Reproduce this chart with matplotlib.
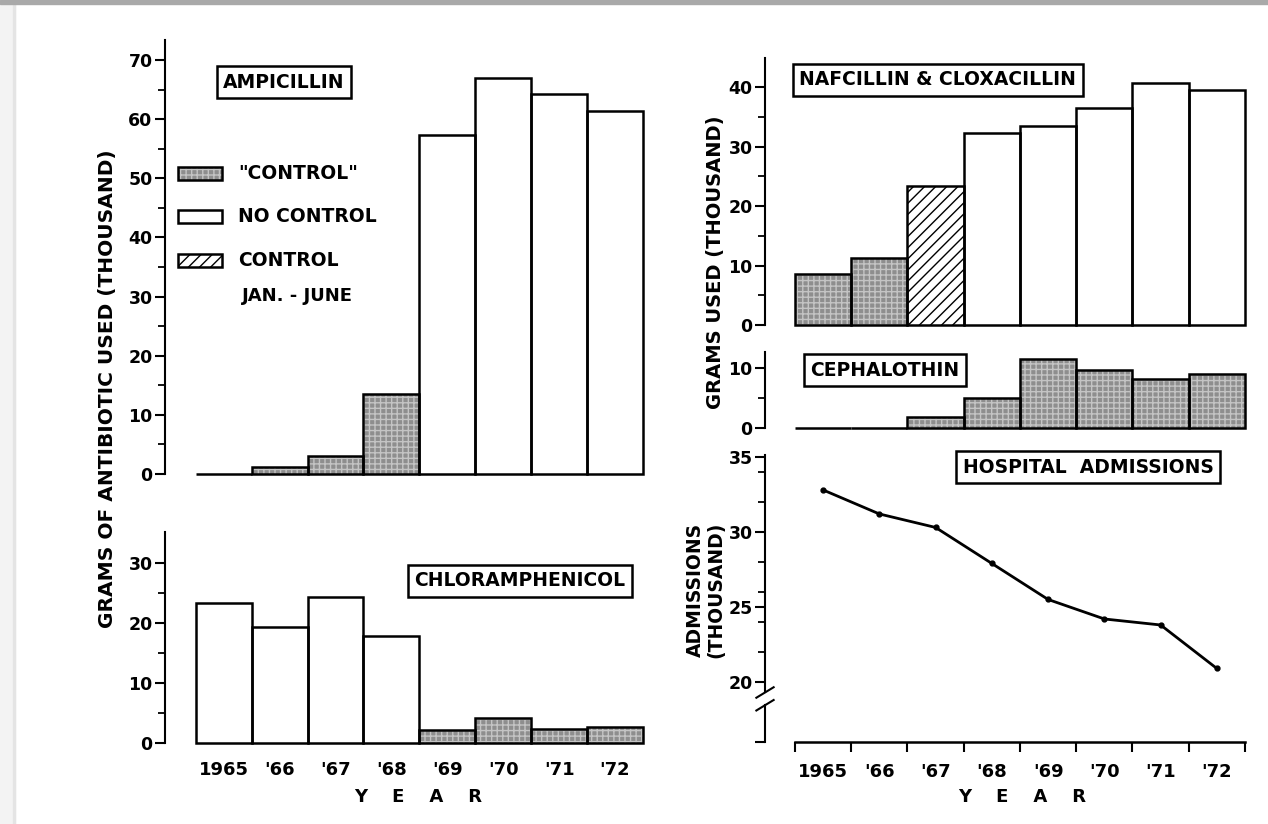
import numpy as np
import matplotlib
matplotlib.use('Agg')
from matplotlib import pyplot as plt
from matplotlib.patches import Rectangle

W, H = 1268, 824

YEARS = ['1965', "'66", "'67", "'68", "'69", "'70", "'71", "'72"]

# grams used (thousand)
AMPICILLIN = [0.0, 1.2, 3.0, 13.5, 57.3, 67.0, 64.2, 61.4]
AMPICILLIN_KIND = ['control', 'control', 'control', 'control', 'none', 'none', 'none', 'none']

CHLORAMPHENICOL = [23.3, 19.4, 24.3, 17.9, 2.2, 4.2, 2.3, 2.6]
CHLORAMPHENICOL_KIND = ['none', 'none', 'none', 'none', 'control', 'control', 'control', 'control']

NAFCILLIN = [8.5, 11.2, 23.4, 32.3, 33.4, 36.5, 40.7, 39.6]
NAFCILLIN_KIND = ['control', 'control', 'janjune', 'none', 'none', 'none', 'none', 'none']

CEPHALOTHIN = [0.0, 0.0, 1.9, 5.0, 11.5, 9.6, 8.1, 9.0]
CEPHALOTHIN_KIND = ['control'] * 8

# admissions (thousand)
ADMISSIONS = [32.8, 31.2, 30.3, 27.9, 25.5, 24.2, 23.8, 20.9]

LEGEND_LABELS = ['"CONTROL"', 'NO CONTROL', 'CONTROL']

FONT = dict(fontweight='bold', family='DejaVu Sans')
EDGE_LW = 1.8

STYLES = {
    'control': dict(color='#8e8e8e', hatch='+++', hatch_color='#c4c4c4'),
    'none': dict(color='white', hatch=None, hatch_color='white'),
    'janjune': dict(color='white', hatch='///', hatch_color='black'),
}

plt.rcParams['hatch.linewidth'] = 1.0


def px_axes(fig, left, right, bottom_px, top_px):
    return fig.add_axes([left / W, 1 - bottom_px / H, (right - left) / W, (bottom_px - top_px) / H])


def draw_bars(ax, values, kinds):
    x = np.arange(len(values))
    values = np.array(values)
    for kind, st in STYLES.items():
        idx = [i for i, k in enumerate(kinds) if k == kind]
        if not idx:
            continue
        ax.bar(x[idx], values[idx], width=1.0, color=st['color'], hatch=st['hatch'],
               edgecolor=st['hatch_color'], linewidth=0, clip_on=False)
    ax.bar(x, values, width=1.0, fill=False, edgecolor='black', linewidth=EDGE_LW, clip_on=False)


def style_bar_axes(ax, ylim, major, minor):
    ax.set_ylim(*ylim)
    for s in ['top', 'right', 'bottom']:
        ax.spines[s].set_visible(False)
    ax.spines['left'].set_linewidth(1.5)
    ax.set_yticks(major)
    ax.set_yticks(minor, minor=True)
    ax.tick_params(axis='y', which='major', direction='out', length=7, width=1.5, labelsize=12.5, pad=2)
    ax.tick_params(axis='y', which='minor', direction='out', length=5, width=1.3)
    for t in ax.get_yticklabels():
        t.set_fontweight('bold')
    ax.set_xticks([])
    ax.patch.set_alpha(0)


def title_box(ax, x, y, text):
    ax.text(x, y, text, transform=ax.transAxes, ha='center', va='center', fontsize=13.5,
            bbox=dict(boxstyle='square,pad=0.35', fc='white', ec='black', lw=1.8), **FONT)


def year_labels(ax, pad):
    x = np.arange(len(YEARS))
    ax.set_xticks(x, minor=True)
    ax.set_xticklabels(YEARS, minor=True)
    ax.tick_params(axis='x', which='minor', length=0, pad=pad, labelsize=13)
    for t in ax.get_xticklabels(minor=True):
        t.set_fontweight('bold')


fig = plt.figure(figsize=(W / 100, H / 100), dpi=100)
fig.patch.set_facecolor('white')

# scan frame
fig.patches.append(Rectangle((0, 0), 15 / W, 1, transform=fig.transFigure, color='#f3f3f3', zorder=0))
fig.patches.append(Rectangle((13 / W, 0), 2 / W, 1, transform=fig.transFigure, color='#e4e4e4', zorder=0))
fig.patches.append(Rectangle((0, 1 - 4 / H), 1, 4 / H, transform=fig.transFigure, color='#a9a9a9', zorder=0))

# ---- Ampicillin
ax_amp = px_axes(fig, 165, 643, 474, 40)
draw_bars(ax_amp, AMPICILLIN, AMPICILLIN_KIND)
ax_amp.set_xlim(-1.05, 7.5)
style_bar_axes(ax_amp, (0, 73.4), np.arange(0, 71, 10), np.arange(5, 71, 10))
title_box(ax_amp, 0.249, 0.903, 'AMPICILLIN')

# legend
leg_y = [0.693, 0.594, 0.491]
for y, kind, label in zip(leg_y, ['control', 'none', 'janjune'], LEGEND_LABELS):
    st = STYLES[kind]
    ax_amp.add_patch(Rectangle((0.028, y - 0.015), 0.092, 0.030, transform=ax_amp.transAxes,
                               facecolor=st['color'], hatch=st['hatch'], edgecolor=st['hatch_color'],
                               linewidth=0, clip_on=False))
    ax_amp.add_patch(Rectangle((0.028, y - 0.015), 0.092, 0.030, transform=ax_amp.transAxes,
                               fill=False, edgecolor='black', linewidth=EDGE_LW, clip_on=False))
    ax_amp.text(0.153, y, label, transform=ax_amp.transAxes, ha='left', va='center', fontsize=13.5, **FONT)
ax_amp.text(0.16, 0.41, 'JAN. - JUNE', transform=ax_amp.transAxes, ha='left', va='center', fontsize=13, **FONT)

# ---- Chloramphenicol
ax_chl = px_axes(fig, 165, 643, 743, 532)
draw_bars(ax_chl, CHLORAMPHENICOL, CHLORAMPHENICOL_KIND)
ax_chl.set_xlim(-1.05, 7.5)
style_bar_axes(ax_chl, (0, 35.2), np.arange(0, 31, 10), np.arange(5, 31, 10))
year_labels(ax_chl, 13)
title_box(ax_chl, 0.743, 0.768, 'CHLORAMPHENICOL')

# ---- Nafcillin & Cloxacillin
ax_naf = px_axes(fig, 765, 1245, 325, 58)
draw_bars(ax_naf, NAFCILLIN, NAFCILLIN_KIND)
ax_naf.set_xlim(-1.033, 7.5)
style_bar_axes(ax_naf, (0, 44.9), np.arange(0, 41, 10), np.arange(5, 41, 10))
title_box(ax_naf, 0.360, 0.918, 'NAFCILLIN & CLOXACILLIN')

# ---- Cephalothin
ax_cep = px_axes(fig, 765, 1245, 428, 352)
draw_bars(ax_cep, CEPHALOTHIN, CEPHALOTHIN_KIND)
ax_cep.set_xlim(-1.033, 7.5)
style_bar_axes(ax_cep, (0, 12.67), [0, 10], [5])
title_box(ax_cep, 0.25, 0.763, 'CEPHALOTHIN')

# ---- Hospital admissions
ax_adm = px_axes(fig, 765, 1245, 742, 455)
x = np.arange(len(ADMISSIONS))
ax_adm.plot(x, ADMISSIONS, color='black', linewidth=2, marker='o', markersize=3.5)
ax_adm.set_xlim(-1.033, 7.5)
ax_adm.set_ylim(16, 35.13)
for s in ['top', 'right']:
    ax_adm.spines[s].set_visible(False)
ax_adm.spines['left'].set_linewidth(1.5)
ax_adm.spines['bottom'].set_linewidth(1.8)
ax_adm.spines['left'].set_bounds(19.3, 35.13)
ax_adm.spines['bottom'].set_bounds(-0.5, 7.5)
ax_adm.set_yticks([16, 20, 25, 30, 35], ['', '20', '25', '30', '35'])
ax_adm.set_yticks([22, 24, 26, 28, 32, 34], minor=True)
ax_adm.tick_params(axis='y', which='major', direction='out', length=7, width=1.5, labelsize=12.5, pad=2)
ax_adm.tick_params(axis='y', which='minor', direction='out', length=5, width=1.3)
for t in ax_adm.get_yticklabels():
    t.set_fontweight('bold')
ax_adm.set_xticks(np.arange(-0.5, 8, 1))
ax_adm.set_xticklabels([])
ax_adm.tick_params(axis='x', which='major', direction='out', length=7, width=1.5)
year_labels(ax_adm, 15)
# axis break
yt = ax_adm.get_yaxis_transform()
ax_adm.plot([0, 0], [16, 18.45], transform=yt, color='black', lw=1.5, clip_on=False)
for yb in [19.3, 18.45]:
    ax_adm.plot([-0.018, 0.018], [yb - 0.35, yb + 0.35], transform=yt, color='black', lw=1.5, clip_on=False)
ax_adm.patch.set_alpha(0)
title_box(ax_adm, 0.673, 0.958, 'HOSPITAL  ADMISSIONS')

# ---- shared labels
fig.text(108 / W, 1 - 389 / H, 'GRAMS OF ANTIBIOTIC USED (THOUSAND)', rotation=90,
         ha='center', va='center', fontsize=14.5, **FONT)
fig.text(716 / W, 1 - 262 / H, 'GRAMS USED (THOUSAND)', rotation=90,
         ha='center', va='center', fontsize=14, **FONT)
fig.text(706 / W, 1 - 590 / H, 'ADMISSIONS\n(THOUSAND)', rotation=90,
         ha='center', va='center', fontsize=13.5, linespacing=1.1, **FONT)
fig.text(418 / W, 1 - 797 / H, 'Y    E    A    R', ha='center', va='center', fontsize=13, **FONT)
fig.text(1022 / W, 1 - 797 / H, 'Y    E    A    R', ha='center', va='center', fontsize=13, **FONT)

fig.savefig('out.png', dpi=100)
